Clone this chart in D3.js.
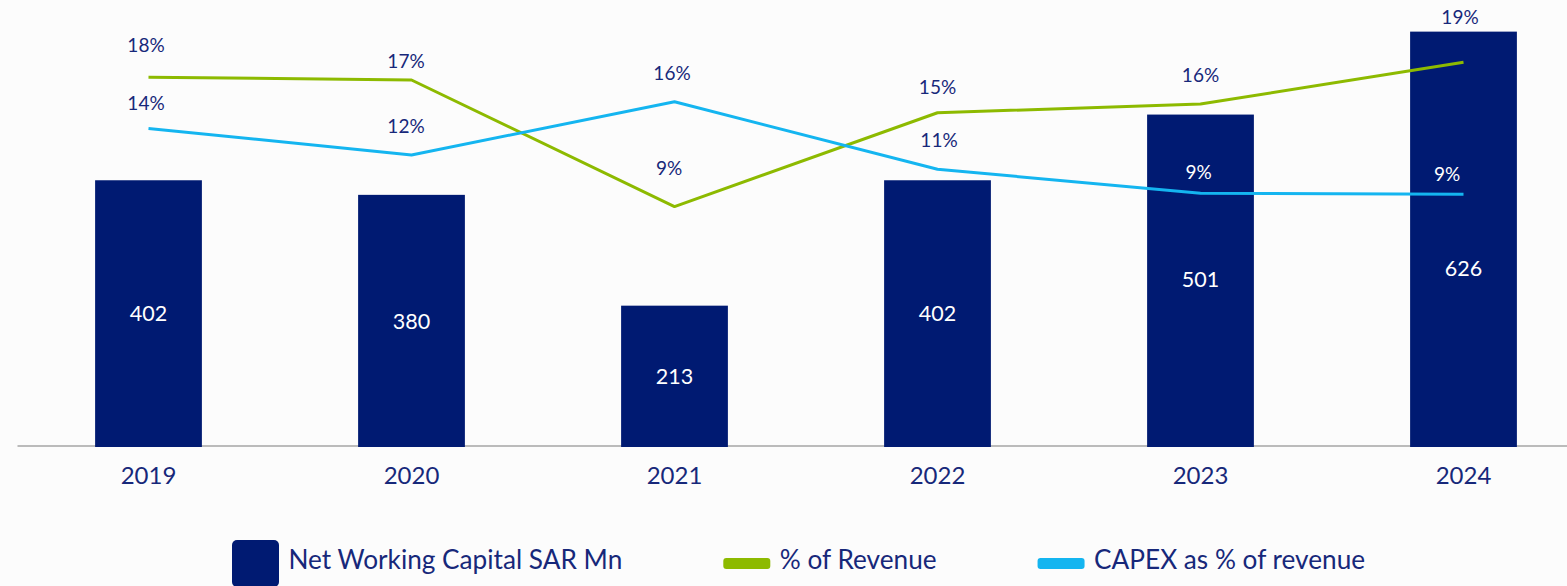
<!DOCTYPE html>
<html>
<head>
<meta charset="utf-8">
<script src="https://cdn.jsdelivr.net/npm/d3@7/dist/d3.min.js"></script>
<style>
  html, body { margin: 0; padding: 0; background: #fcfcfc; }
  svg { display: block; font-family: Lato, "Open Sans", sans-serif; }
</style>
</head>
<body>
<svg id="chart" width="1567" height="586"></svg>
<script>
// ---------- data ----------
const categories = ["2019", "2020", "2021", "2022", "2023", "2024"];
const netWorkingCapital = [402, 380, 213, 402, 501, 626];
const pctOfRevenue = [0.1759, 0.1739, 0.0854, 0.1510, 0.1571, 0.1863];
const capexPctOfRevenue = [0.1400, 0.1215, 0.1587, 0.1115, 0.0947, 0.0940];
const legendLabels = ["Net Working Capital SAR Mn", "% of Revenue", "CAPEX as % of revenue"];

// ---------- layout / style ----------
const W = 1567, H = 586;
const colors = { bar: "#001a72", green: "#8dba00", blue: "#14b5f0", text: "#17287a", axis: "#a6a6a6" };
// manual label nudges (label centre relative to its point)
const greenLabelNudge = [[-2.5, -31.7], [-5.5, -19.3], [-5.5, -38.6], [0, -25.4], [0, -29], [-3.5, -45]];
const blueLabelNudge  = [[-2.5, -25.8], [-5.5, -28.3], [-2.5, -29], [1.5, -29.3], [-2, -21.6], [-16.5, -19.8]];
const barLabelNudge   = [0, 0, 0, 0, -1.5, 29];

const svg = d3.select("#chart");
svg.append("rect").attr("width", W).attr("height", H).attr("fill", "#fcfcfc");

const x = d3.scaleBand().domain(categories).range([17, 1595]).paddingInner(0.594).paddingOuter(0.297);
const yBar = d3.scaleLinear().domain([0, 650]).range([447, 15.7]);
const yLine = d3.scaleLinear().domain([0.05, 0.20]).range([257.2, 42.7]);
const cx = c => x(c) + x.bandwidth() / 2;

// axis
const axis = svg.append("g").attr("transform", "translate(0,445.5)")
  .call(d3.axisBottom(x).tickSize(0).tickSizeOuter(0).tickPadding(21.5));
axis.select(".domain").attr("stroke", colors.axis).attr("stroke-width", 1.5);
axis.selectAll("text").attr("fill", colors.text).attr("font-size", 24)
  .attr("font-family", "Lato, sans-serif");

// bars
svg.append("g").selectAll("rect").data(netWorkingCapital).join("rect")
  .attr("x", (d, i) => x(categories[i]))
  .attr("y", d => yBar(d))
  .attr("width", x.bandwidth())
  .attr("height", d => yBar(0) - yBar(d))
  .attr("fill", colors.bar);

// bar labels
svg.append("g").selectAll("text").data(netWorkingCapital).join("text")
  .attr("x", (d, i) => cx(categories[i]))
  .attr("y", (d, i) => (yBar(d) + yBar(0)) / 2 + barLabelNudge[i])
  .attr("dy", "0.36em")
  .attr("text-anchor", "middle")
  .attr("fill", "#ffffff")
  .attr("font-size", 21.5)
  .text(d => d3.format("d")(d));

// lines
const line = d3.line().x((d, i) => cx(categories[i])).y(d => yLine(d)).curve(d3.curveLinear);
svg.append("path").datum(pctOfRevenue).attr("d", line)
  .attr("fill", "none").attr("stroke", colors.green).attr("stroke-width", 3)
  .attr("stroke-linejoin", "round");
svg.append("path").datum(capexPctOfRevenue).attr("d", line)
  .attr("fill", "none").attr("stroke", colors.blue).attr("stroke-width", 3)
  .attr("stroke-linejoin", "round");

// percent labels
const fmt = d3.format(".0%");
function insideBar(i, lx, ly) {
  const bx = x(categories[i]);
  return lx >= bx && lx <= bx + x.bandwidth() && ly >= yBar(netWorkingCapital[i]);
}
function addPctLabels(values, nudges) {
  svg.append("g").selectAll("text").data(values).join("text")
    .each(function (d, i) {
      const lx = cx(categories[i]) + nudges[i][0];
      const ly = yLine(d) + nudges[i][1];
      d3.select(this).attr("x", lx).attr("y", ly)
        .attr("fill", insideBar(i, lx, ly) ? "#ffffff" : colors.text);
    })
    .attr("dy", "0.36em")
    .attr("text-anchor", "middle")
    .attr("font-size", 19)
    .text(d => fmt(d));
}
addPctLabels(pctOfRevenue, greenLabelNudge);
addPctLabels(capexPctOfRevenue, blueLabelNudge);

// legend
const legend = svg.append("g");
const legendItems = [
  { label: legendLabels[0], type: "bar", color: colors.bar },
  { label: legendLabels[1], type: "line", color: colors.green },
  { label: legendLabels[2], type: "line", color: colors.blue }
];
let lx = 232;
legendItems.forEach(item => {
  if (item.type === "bar") {
    legend.append("rect").attr("x", lx).attr("y", 540).attr("width", 47).attr("height", 47)
      .attr("rx", 5).attr("fill", item.color);
  } else {
    legend.append("rect").attr("x", lx).attr("y", 558).attr("width", 47).attr("height", 11)
      .attr("rx", 3).attr("fill", item.color);
  }
  const t = legend.append("text").attr("x", lx + 56.5).attr("y", 568.5)
    .attr("fill", colors.text).attr("font-size", 26.2).text(item.label);
  lx = lx + 56.5 + t.node().getComputedTextLength() + 101;
});
</script>
</body>
</html>
